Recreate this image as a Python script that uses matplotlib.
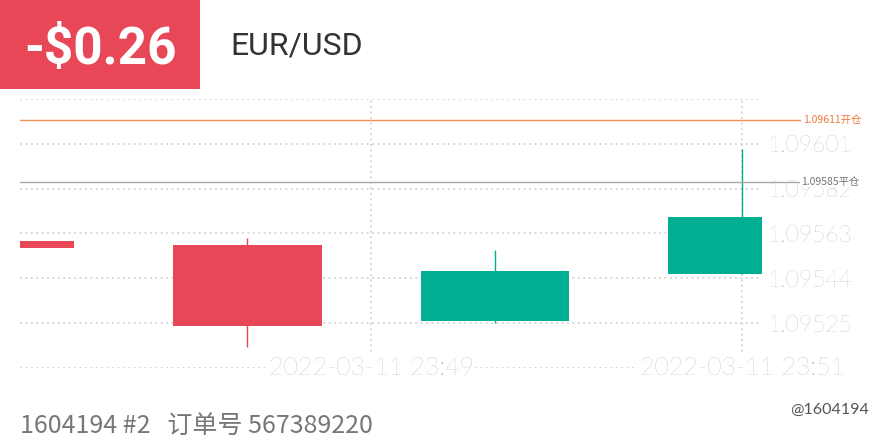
import matplotlib
matplotlib.use('Agg')
import matplotlib.pyplot as plt
from matplotlib.patches import Rectangle

# Data
opens = [1.09560, 1.09558, 1.09526, 1.09546]
highs = [1.09560, 1.09561, 1.09556, 1.09599]
lows = [1.09557, 1.09515, 1.09525, 1.09546]
closes = [1.09557, 1.09524, 1.09547, 1.09570]
grid_levels = [1.09506, 1.09525, 1.09544, 1.09563, 1.09582, 1.09601, 1.09620]
label_levels = ['', '1.09525', '1.09544', '1.09563', '1.09582', '1.09601', '']
time_pos = [1.5, 3.0]
time_labels = ['2022-03-11 23:49', '2022-03-11 23:51']
open_price = 1.09611
close_price = 1.09585
pnl = '-$0.26'
symbol = 'EUR/USD'
footer = '1604194 #2   订单号 567389220'

RED = '#e84757'
GREEN = '#00ae91'

fig = plt.figure(figsize=(8.8, 4.4), dpi=100)
ax = fig.add_axes([20 / 880, 72 / 440, 742 / 880, 269 / 440])

# Candles
w = 0.6
for i, (o, h, l, c) in enumerate(zip(opens, highs, lows, closes)):
    col = GREEN if c >= o else RED
    ax.vlines(i, l, h, color=col, lw=1, zorder=3)
    ax.add_patch(Rectangle((i - w / 2, min(o, c)), w, abs(c - o), color=col, lw=0, zorder=3))

ax.set_xlim(0.081, 3.08)
ax.set_ylim(grid_levels[0], grid_levels[-1])

# Dotted grid
for y in grid_levels:
    ax.axhline(y, color='#d2d2d2', lw=1.3, ls=(0, (1, 2)), zorder=1)
for x in time_pos:
    ax.axvline(x, color='#d2d2d2', lw=1.3, ls=(0, (1, 2)), zorder=1)

# Open / close price lines
ax.axhline(open_price, xmin=0, xmax=(800 - 20) / 742, color='#f39058', lw=1, clip_on=False, zorder=4)
ax.axhline(close_price, xmin=0, xmax=(800 - 20) / 742, color='#a8a8a8', lw=1, clip_on=False, zorder=4)
ax.text((803 - 20) / 742, open_price, f'{open_price:.5f}开仓', transform=ax.get_yaxis_transform(),
        fontsize=7.5, color='#f07a3c', va='center', ha='left', zorder=6,
        family=['Noto Sans CJK SC', 'DejaVu Sans'])
ax.text((801 - 20) / 742, close_price, f'{close_price:.5f}平仓', transform=ax.get_yaxis_transform(),
        fontsize=7.5, color='#777777', va='center', ha='left', zorder=6,
        family=['Noto Sans CJK SC', 'DejaVu Sans'],
        bbox=dict(facecolor='white', edgecolor='none', pad=0.5))

# Axes styling
for s in ax.spines.values():
    s.set_visible(False)
ax.yaxis.tick_right()
ax.set_yticks(grid_levels)
ax.set_yticklabels(label_levels, fontsize=16.5, color='#a6a6a6', family='Lato', fontweight='light')
ax.tick_params(axis='y', length=0, pad=4)
ax.set_xticks([])

for x, lab in zip(time_pos, time_labels):
    ax.text(x, grid_levels[0], lab, ha='center', va='center', fontsize=18, color='#a6a6a6',
            family='Lato', fontweight='light', zorder=5, clip_on=False,
            bbox=dict(facecolor='white', edgecolor='none', pad=1))

# Header
fig.patches.append(Rectangle((0, 1 - 89 / 440), 200 / 880, 89 / 440, transform=fig.transFigure,
                             color=RED, lw=0))
fig.text(100 / 880, 1 - 50 / 440, pnl, ha='center', va='center', fontsize=37, color='white',
         family='Roboto', fontweight='bold')
fig.text(230 / 880, 1 - 46 / 440, symbol, ha='left', va='center', fontsize=23, color='#333333',
         family='Roboto')

# Footer
fig.text(20 / 880, 1 - 426 / 440, footer, ha='left', va='center', fontsize=18, color='#777777',
         family=['Noto Sans CJK SC', 'DejaVu Sans'])
fig.text(869 / 880, 1 - 410 / 440, '@1604194', ha='right', va='center', fontsize=11.5, color='#555555',
         family='Lato')

fig.savefig('out.png', dpi=100)
